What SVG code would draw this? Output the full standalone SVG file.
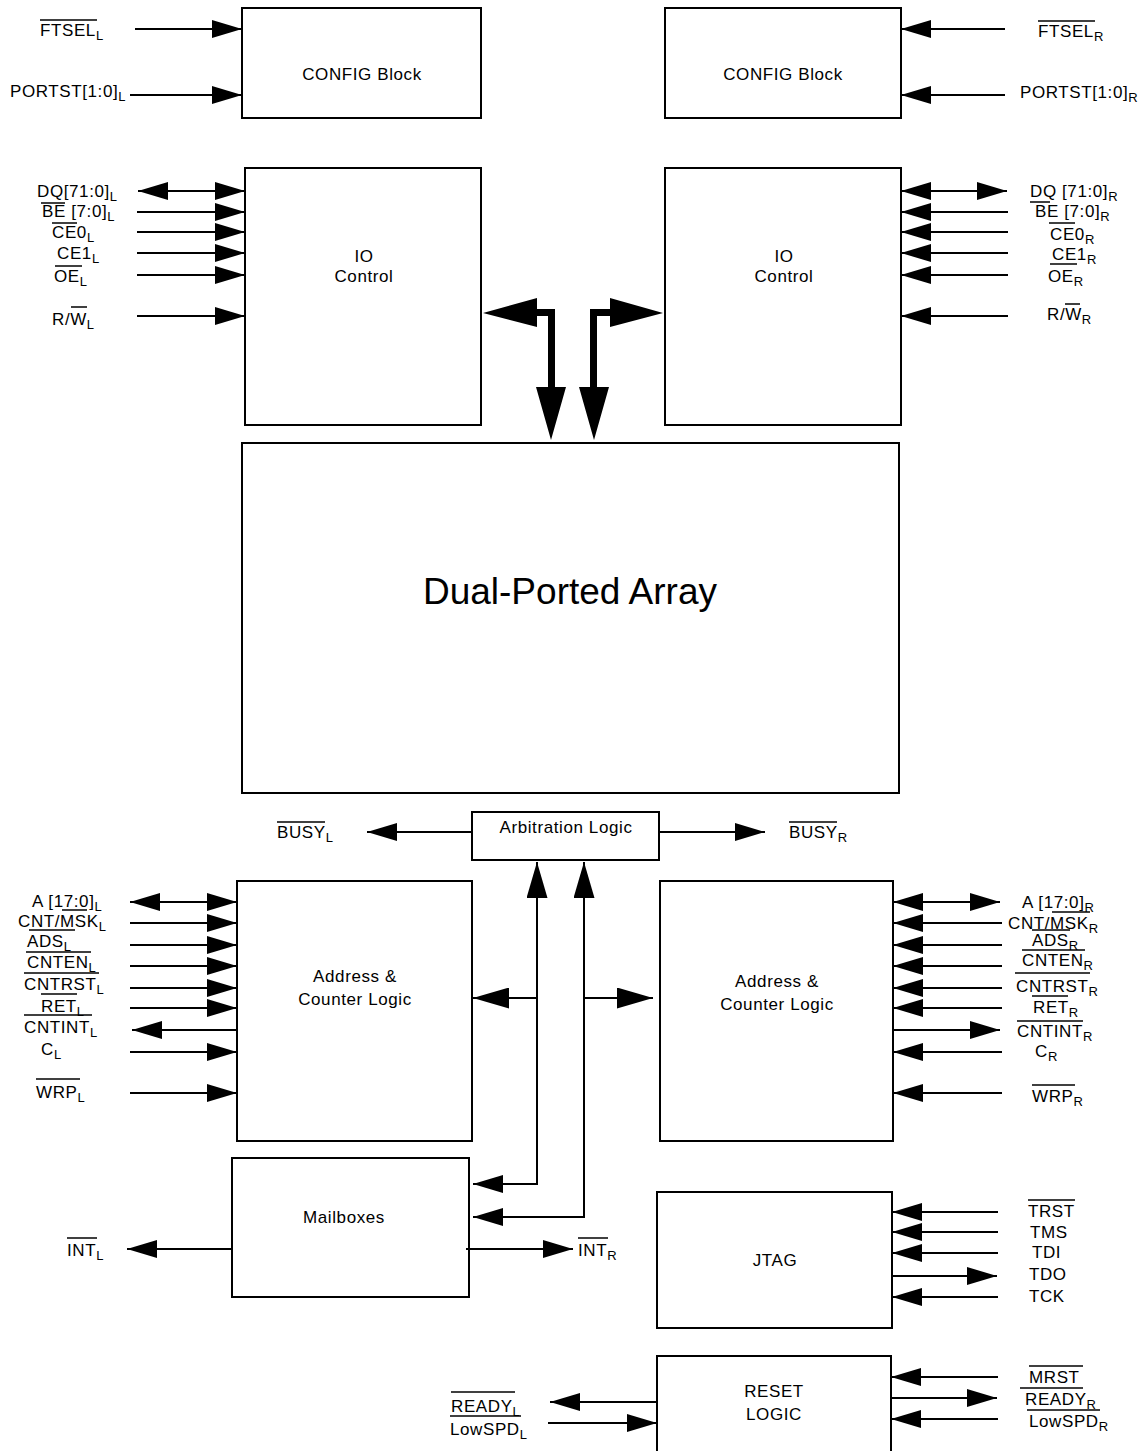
<svg xmlns="http://www.w3.org/2000/svg" width="1145" height="1451" viewBox="0 0 1145 1451">
<style>
.bx{fill:#fff;stroke:#000;stroke-width:2}
.t{font-family:"Liberation Sans",Arial,sans-serif;font-size:17px;letter-spacing:0.6px;fill:#000}
.t tspan{font-size:13px}
.c{text-anchor:middle}
.big{font-family:"Liberation Sans",Arial,sans-serif;font-size:37px;fill:#000;text-anchor:middle}
.ln{stroke:#000;stroke-width:2;fill:none}
.ov{stroke:#000;stroke-width:1.5}
</style>
<defs>
<marker id="a" markerUnits="userSpaceOnUse" markerWidth="30" markerHeight="18" refX="30" refY="9" orient="auto-start-reverse"><path d="M0,0 L30,9 L0,18 z" fill="#000"/></marker>
<marker id="b" markerUnits="userSpaceOnUse" markerWidth="36" markerHeight="21" refX="36" refY="10.5" orient="auto-start-reverse"><path d="M0,0 L36,10.5 L0,21 z" fill="#000"/></marker>
</defs>
<rect width="1145" height="1451" fill="#fff"/>

<g id="config-l"><rect class="bx" x="242" y="8" width="239" height="110"/><text class="t c" x="362" y="80">CONFIG Block</text></g>
<g id="config-r"><rect class="bx" x="665" y="8" width="236" height="110"/><text class="t c" x="783" y="80">CONFIG Block</text></g>
<g id="io-l"><rect class="bx" x="245" y="168" width="236" height="257"/><text class="t c" x="364" y="262">IO</text><text class="t c" x="364" y="282">Control</text></g>
<g id="io-r"><rect class="bx" x="665" y="168" width="236" height="257"/><text class="t c" x="784" y="262">IO</text><text class="t c" x="784" y="282">Control</text></g>
<g id="array"><rect class="bx" x="242" y="443" width="657" height="350"/><text class="big" x="570" y="604">Dual-Ported Array</text></g>
<g id="arbitration"><rect class="bx" x="472" y="812" width="187" height="48"/><text class="t c" x="566" y="833">Arbitration Logic</text></g>
<g id="addr-l"><rect class="bx" x="237" y="881" width="235" height="260"/><text class="t c" x="355" y="982">Address &amp;</text><text class="t c" x="355" y="1005">Counter Logic</text></g>
<g id="addr-r"><rect class="bx" x="660" y="881" width="233" height="260"/><text class="t c" x="777" y="987">Address &amp;</text><text class="t c" x="777" y="1010">Counter Logic</text></g>
<g id="mailboxes"><rect class="bx" x="232" y="1158" width="237" height="139"/><text class="t c" x="344" y="1223">Mailboxes</text></g>
<g id="jtag"><rect class="bx" x="657" y="1192" width="235" height="136"/><text class="t c" x="775" y="1266">JTAG</text></g>
<g id="reset"><rect class="bx" x="657" y="1356" width="234" height="110"/><text class="t c" x="774" y="1397">RESET</text><text class="t c" x="774" y="1420">LOGIC</text></g>

<g id="connectors">
<line class="ln" x1="135" y1="29" x2="242" y2="29" marker-end="url(#a)"/>
<line class="ln" x1="130" y1="95" x2="242" y2="95" marker-end="url(#a)"/>
<line class="ln" x1="1005" y1="29" x2="901" y2="29" marker-end="url(#a)"/>
<line class="ln" x1="1005" y1="95" x2="901" y2="95" marker-end="url(#a)"/>

<line class="ln" x1="138" y1="191" x2="245" y2="191" marker-start="url(#a)" marker-end="url(#a)"/>
<line class="ln" x1="137" y1="212" x2="245" y2="212" marker-end="url(#a)"/>
<line class="ln" x1="137" y1="232" x2="245" y2="232" marker-end="url(#a)"/>
<line class="ln" x1="137" y1="253" x2="245" y2="253" marker-end="url(#a)"/>
<line class="ln" x1="137" y1="275" x2="245" y2="275" marker-end="url(#a)"/>
<line class="ln" x1="137" y1="316" x2="245" y2="316" marker-end="url(#a)"/>

<line class="ln" x1="901" y1="191" x2="1007" y2="191" marker-start="url(#a)" marker-end="url(#a)"/>
<line class="ln" x1="1008" y1="212" x2="901" y2="212" marker-end="url(#a)"/>
<line class="ln" x1="1008" y1="232" x2="901" y2="232" marker-end="url(#a)"/>
<line class="ln" x1="1008" y1="253" x2="901" y2="253" marker-end="url(#a)"/>
<line class="ln" x1="1008" y1="275" x2="901" y2="275" marker-end="url(#a)"/>
<line class="ln" x1="1008" y1="316" x2="901" y2="316" marker-end="url(#a)"/>

<polygon fill="#000" points="483,313 537,298 537,309 555,309 555,387 566,387 551,440 536,387 548,387 548,316 537,316 537,327"/>
<polygon fill="#000" points="663,313 610,298 610,309 590,309 590,387 579,387 594,440 609,387 597,387 597,316 610,316 610,327"/>

<line class="ln" x1="472" y1="832" x2="367" y2="832" marker-end="url(#a)"/>
<line class="ln" x1="659" y1="832" x2="765" y2="832" marker-end="url(#a)"/>

<path class="ln" d="M537,1184 V862" marker-end="url(#b)"/>
<path class="ln" d="M584,1217 V862" marker-end="url(#b)"/>
<path class="ln" d="M537,998 H473" marker-end="url(#b)"/>
<path class="ln" d="M584,998 H653" marker-end="url(#b)"/>
<path class="ln" d="M538,1184 H473" marker-end="url(#a)"/>
<path class="ln" d="M585,1217 H473" marker-end="url(#a)"/>

<line class="ln" x1="130" y1="902" x2="237" y2="902" marker-start="url(#a)" marker-end="url(#a)"/>
<line class="ln" x1="130" y1="923" x2="237" y2="923" marker-end="url(#a)"/>
<line class="ln" x1="130" y1="945" x2="237" y2="945" marker-end="url(#a)"/>
<line class="ln" x1="130" y1="966" x2="237" y2="966" marker-end="url(#a)"/>
<line class="ln" x1="130" y1="988" x2="237" y2="988" marker-end="url(#a)"/>
<line class="ln" x1="130" y1="1008" x2="237" y2="1008" marker-end="url(#a)"/>
<line class="ln" x1="237" y1="1030" x2="132" y2="1030" marker-end="url(#a)"/>
<line class="ln" x1="130" y1="1052" x2="237" y2="1052" marker-end="url(#a)"/>
<line class="ln" x1="130" y1="1093" x2="237" y2="1093" marker-end="url(#a)"/>

<line class="ln" x1="893" y1="902" x2="1000" y2="902" marker-start="url(#a)" marker-end="url(#a)"/>
<line class="ln" x1="1002" y1="923" x2="893" y2="923" marker-end="url(#a)"/>
<line class="ln" x1="1002" y1="945" x2="893" y2="945" marker-end="url(#a)"/>
<line class="ln" x1="1002" y1="966" x2="893" y2="966" marker-end="url(#a)"/>
<line class="ln" x1="1002" y1="988" x2="893" y2="988" marker-end="url(#a)"/>
<line class="ln" x1="1002" y1="1008" x2="893" y2="1008" marker-end="url(#a)"/>
<line class="ln" x1="893" y1="1030" x2="1000" y2="1030" marker-end="url(#a)"/>
<line class="ln" x1="1002" y1="1052" x2="893" y2="1052" marker-end="url(#a)"/>
<line class="ln" x1="1002" y1="1093" x2="893" y2="1093" marker-end="url(#a)"/>

<line class="ln" x1="232" y1="1249" x2="127" y2="1249" marker-end="url(#a)"/>
<line class="ln" x1="466" y1="1249" x2="573" y2="1249" marker-end="url(#a)"/>

<line class="ln" x1="998" y1="1212" x2="892" y2="1212" marker-end="url(#a)"/>
<line class="ln" x1="998" y1="1232" x2="892" y2="1232" marker-end="url(#a)"/>
<line class="ln" x1="998" y1="1253" x2="892" y2="1253" marker-end="url(#a)"/>
<line class="ln" x1="892" y1="1276" x2="997" y2="1276" marker-end="url(#a)"/>
<line class="ln" x1="998" y1="1297" x2="892" y2="1297" marker-end="url(#a)"/>

<line class="ln" x1="657" y1="1402" x2="550" y2="1402" marker-end="url(#a)"/>
<line class="ln" x1="548" y1="1423" x2="657" y2="1423" marker-end="url(#a)"/>
<line class="ln" x1="998" y1="1377" x2="891" y2="1377" marker-end="url(#a)"/>
<line class="ln" x1="891" y1="1398" x2="997" y2="1398" marker-end="url(#a)"/>
<line class="ln" x1="998" y1="1419" x2="891" y2="1419" marker-end="url(#a)"/>
</g>

<g id="labels">
<text class="t" x="40" y="36">FTSEL<tspan dy="4">L</tspan></text>
<text class="t" x="10" y="97">PORTST[1:0]<tspan dy="4">L</tspan></text>
<text class="t" x="1038" y="37">FTSEL<tspan dy="4">R</tspan></text>
<text class="t" x="1020" y="98">PORTST[1:0]<tspan dy="4">R</tspan></text>

<text class="t" x="37" y="197">DQ[71:0]<tspan dy="4">L</tspan></text>
<text class="t" x="42" y="217">BE [7:0]<tspan dy="4">L</tspan></text>
<text class="t" x="52" y="238">CE0<tspan dy="4">L</tspan></text>
<text class="t" x="57" y="259">CE1<tspan dy="4">L</tspan></text>
<text class="t" x="54" y="282">OE<tspan dy="4">L</tspan></text>
<text class="t" x="52" y="325">R/W<tspan dy="4">L</tspan></text>

<text class="t" x="1030" y="197">DQ [71:0]<tspan dy="4">R</tspan></text>
<text class="t" x="1035" y="217">BE [7:0]<tspan dy="4">R</tspan></text>
<text class="t" x="1050" y="240">CE0<tspan dy="4">R</tspan></text>
<text class="t" x="1052" y="260">CE1<tspan dy="4">R</tspan></text>
<text class="t" x="1048" y="282">OE<tspan dy="4">R</tspan></text>
<text class="t" x="1047" y="320">R/W<tspan dy="4">R</tspan></text>

<text class="t" x="277" y="838">BUSY<tspan dy="4">L</tspan></text>
<text class="t" x="789" y="838">BUSY<tspan dy="4">R</tspan></text>

<text class="t" x="32" y="907">A [17:0]<tspan dy="4">L</tspan></text>
<text class="t" x="18" y="927">CNT/MSK<tspan dy="4">L</tspan></text>
<text class="t" x="27" y="947">ADS<tspan dy="4">L</tspan></text>
<text class="t" x="27" y="968">CNTEN<tspan dy="4">L</tspan></text>
<text class="t" x="24" y="990">CNTRST<tspan dy="4">L</tspan></text>
<text class="t" x="41" y="1012">RET<tspan dy="4">L</tspan></text>
<text class="t" x="24" y="1033">CNTINT<tspan dy="4">L</tspan></text>
<text class="t" x="41" y="1055">C<tspan dy="4">L</tspan></text>
<text class="t" x="36" y="1098">WRP<tspan dy="4">L</tspan></text>

<text class="t" x="1022" y="908">A [17:0]<tspan dy="4">R</tspan></text>
<text class="t" x="1008" y="929">CNT/MSK<tspan dy="4">R</tspan></text>
<text class="t" x="1032" y="946">ADS<tspan dy="4">R</tspan></text>
<text class="t" x="1022" y="966">CNTEN<tspan dy="4">R</tspan></text>
<text class="t" x="1016" y="992">CNTRST<tspan dy="4">R</tspan></text>
<text class="t" x="1033" y="1013">RET<tspan dy="4">R</tspan></text>
<text class="t" x="1017" y="1037">CNTINT<tspan dy="4">R</tspan></text>
<text class="t" x="1035" y="1057">C<tspan dy="4">R</tspan></text>
<text class="t" x="1032" y="1102">WRP<tspan dy="4">R</tspan></text>

<text class="t" x="67" y="1256">INT<tspan dy="4">L</tspan></text>
<text class="t" x="578" y="1256">INT<tspan dy="4">R</tspan></text>

<text class="t" x="1028" y="1217">TRST</text>
<text class="t" x="1030" y="1238">TMS</text>
<text class="t" x="1032" y="1258">TDI</text>
<text class="t" x="1029" y="1280">TDO</text>
<text class="t" x="1029" y="1302">TCK</text>

<text class="t" x="451" y="1412">READY<tspan dy="4">L</tspan></text>
<text class="t" x="450" y="1435">LowSPD<tspan dy="4">L</tspan></text>
<text class="t" x="1029" y="1383">MRST</text>
<text class="t" x="1025" y="1405">READY<tspan dy="4">R</tspan></text>
<text class="t" x="1029" y="1427">LowSPD<tspan dy="4">R</tspan></text>
</g>

<g id="overlines">
<line class="ov" x1="40" y1="20" x2="97" y2="20"/>
<line class="ov" x1="1038" y1="21" x2="1095" y2="21"/>
<line class="ov" x1="41" y1="203" x2="65" y2="203"/>
<line class="ov" x1="52" y1="223" x2="77" y2="223"/>
<line class="ov" x1="55" y1="266" x2="82" y2="266"/>
<line class="ov" x1="71" y1="307" x2="87" y2="307"/>
<line class="ov" x1="1030" y1="202" x2="1050" y2="202"/>
<line class="ov" x1="1049" y1="223" x2="1075" y2="223"/>
<line class="ov" x1="1050" y1="264" x2="1077" y2="264"/>
<line class="ov" x1="1065" y1="304" x2="1080" y2="304"/>
<line class="ov" x1="277" y1="822" x2="325" y2="822"/>
<line class="ov" x1="789" y1="822" x2="837" y2="822"/>
<line class="ov" x1="62" y1="910" x2="87" y2="910"/>
<line class="ov" x1="29" y1="930" x2="75" y2="930"/>
<line class="ov" x1="26" y1="952" x2="91" y2="952"/>
<line class="ov" x1="24" y1="973" x2="99" y2="973"/>
<line class="ov" x1="41" y1="994" x2="77" y2="994"/>
<line class="ov" x1="24" y1="1015" x2="92" y2="1015"/>
<line class="ov" x1="36" y1="1079" x2="80" y2="1079"/>
<line class="ov" x1="1052" y1="912" x2="1090" y2="912"/>
<line class="ov" x1="1032" y1="930" x2="1070" y2="930"/>
<line class="ov" x1="1022" y1="950" x2="1085" y2="950"/>
<line class="ov" x1="1015" y1="973" x2="1090" y2="973"/>
<line class="ov" x1="1032" y1="996" x2="1068" y2="996"/>
<line class="ov" x1="1017" y1="1021" x2="1083" y2="1021"/>
<line class="ov" x1="1032" y1="1085" x2="1075" y2="1085"/>
<line class="ov" x1="67" y1="1238" x2="97" y2="1238"/>
<line class="ov" x1="578" y1="1238" x2="608" y2="1238"/>
<line class="ov" x1="1028" y1="1200" x2="1075" y2="1200"/>
<line class="ov" x1="451" y1="1392" x2="515" y2="1392"/>
<line class="ov" x1="450" y1="1416" x2="521" y2="1416"/>
<line class="ov" x1="1029" y1="1366" x2="1083" y2="1366"/>
<line class="ov" x1="1020" y1="1388" x2="1083" y2="1388"/>
<line class="ov" x1="1027" y1="1410" x2="1100" y2="1410"/>
</g>
</svg>
